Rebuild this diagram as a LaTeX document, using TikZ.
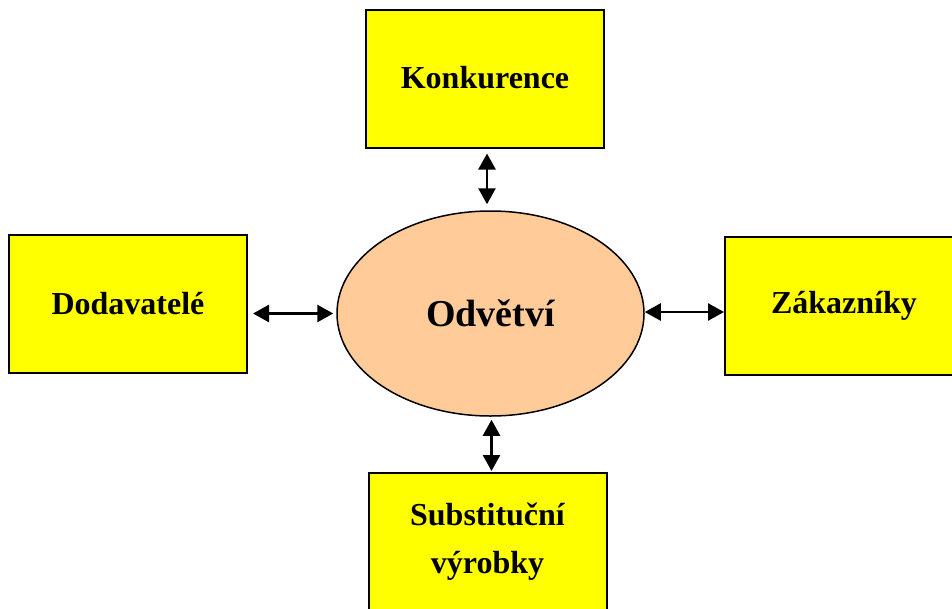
\documentclass[tikz,border=0pt]{standalone}
\usepackage{fontspec}
\setmainfont{Liberation Serif}
\usetikzlibrary{arrows.meta,shapes.geometric}
\definecolor{boxyellow}{HTML}{FFFF00}
\definecolor{peach}{HTML}{FFCC99}
\tikzset{
  ybox/.style={draw=black, line width=2pt, fill=boxyellow, minimum width=238pt, minimum height=138pt,
    inner sep=0pt, align=center, font=\bfseries\fontsize{32}{48}\selectfont},
  hub/.style={ellipse, draw=black, line width=1.5pt, fill=peach, minimum width=307pt, minimum height=205pt,
    inner sep=0pt, font=\bfseries\fontsize{38}{44}\selectfont},
  dblarr/.style={line width=2.5pt, {Triangle[length=16pt,width=17pt]}-{Triangle[length=16pt,width=17pt]}}
}
\begin{document}
\begin{tikzpicture}[x=1pt,y=-1pt]
\useasboundingbox (0,0) rectangle (952,608);
\clip (0,0) rectangle (952,608);
\fill[white] (0,0) rectangle (952,608);
\node[ybox] (konk) at (485,78.5) {\raisebox{3pt}{Konkurence}};
\node[ybox] (dod) at (128,303.5) {Dodavatelé};
\node[ybox] (zak) at (844,306) {Zákazníky};
\node[ybox] (sub) at (487.5,542) {Substituční\\výrobky};
\node[hub] (odv) at (490.5,313.5) {Odvětví};
\draw[dblarr, shorten <=5pt, shorten >=6pt] ([xshift=2pt]konk.south) -- ([xshift=2pt]konk.south |- odv.north);
\draw[dblarr, shorten <=5pt, shorten >=3pt] (dod.east |- odv.west) -- (odv.west);
\draw[dblarr] ([yshift=1.5pt]odv.east) -- ([yshift=1.5pt]zak.west |- odv.east);
\draw[dblarr, shorten <=3pt, shorten >=1pt] ([xshift=1pt]odv.south) -- ([xshift=1pt]odv.south |- sub.north);
\end{tikzpicture}
\end{document}
